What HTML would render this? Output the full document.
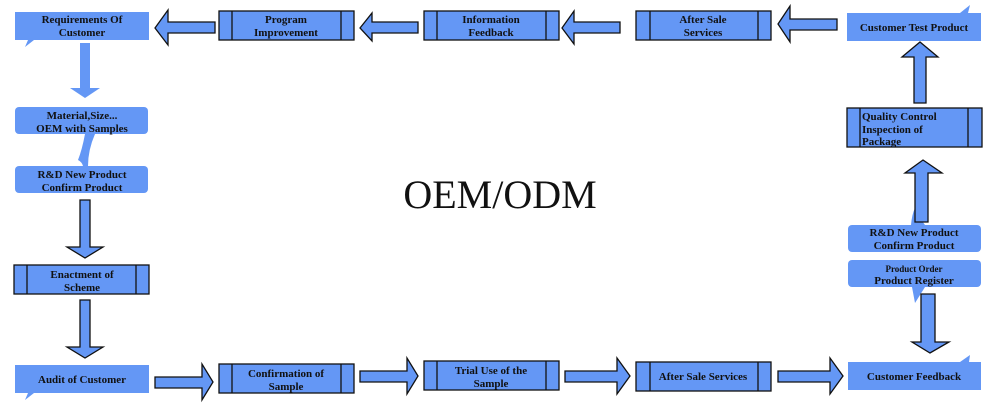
<!DOCTYPE html>
<html><head><style>body{margin:0;background:#fff}svg{display:block}</style></head><body>
<svg width="1000" height="411" xmlns="http://www.w3.org/2000/svg" font-family="'Liberation Serif',serif" font-weight="bold" font-size="11" text-anchor="middle">
<g fill="#6497f5">
<!-- callouts light -->
<path d="M15,12H149V40H34L25,47L28,40H15Z"/>
<rect x="15" y="107" width="133" height="27" rx="4"/>
<path d="M85,134Q82,150 78,160Q82,162 83,166L88,166Q88,150 95,134Z"/>
<rect x="15" y="166" width="133" height="27" rx="4"/>
<path d="M80,43H90V88H100L85,98L70,88H80Z"/>
<path d="M15,365H149V393H34L25,400L28,393H15Z"/>
<path d="M847,13H960L970,5L968,13H981V41H847Z"/>
<rect x="848" y="225" width="133" height="27" rx="4"/>
<path d="M911,225Q912,214 915,208Q918,216 925,225Z"/>
<rect x="848" y="260" width="133" height="27" rx="4"/>
<path d="M912,287L915,303L925,287Z"/>
<path d="M848,362H960L970,355L969,362H981V390H848Z"/>
</g>
<g fill="#6497f5" stroke="#111" stroke-width="1.3">
<!-- top arrows (left) -->
<path d="M155,28L168,10V22H215V33H168V45Z"/>
<path d="M360,28L372,13V22H418V33H372V41Z"/>
<path d="M562,28L574,11V22H620V33H574V44Z"/>
<path d="M778,24L790,6V19H837V30H790V42Z"/>
<!-- right up arrows -->
<path d="M920,42L938,57H926V103H914V57H902Z"/>
<path d="M923,160L942,173H928V222H915V173H905Z"/>
<path d="M921,294H935V342H949L930,353L912,342H921Z"/>
<!-- left down -->
<path d="M80,200H90V247H103L85,258L67,247H80Z"/>
<path d="M80,300H90V347H103L85,358L67,347H80Z"/>
<!-- bottom right arrows -->
<path d="M155,377H202V364L213,382L202,400V388H155Z"/>
<path d="M360,371H407V358L418,376L407,394V382H360Z"/>
<path d="M565,371H617V358L630,376L617,394V382H565Z"/>
<path d="M778,371H830V358L843,376L830,394V382H778Z"/>
<!-- process boxes -->
<rect x="219" y="11" width="135" height="29"/><path d="M232,11V40M341,11V40"/>
<rect x="424" y="11" width="135" height="29"/><path d="M437,11V40M546,11V40"/>
<rect x="636" y="11" width="135" height="29"/><path d="M650,11V40M758,11V40"/>
<rect x="847" y="108" width="135" height="39"/><path d="M860,108V147M968,108V147"/>
<rect x="14" y="265" width="135" height="29"/><path d="M27,265V294M136,265V294"/>
<rect x="219" y="364" width="135" height="29"/><path d="M232,364V393M341,364V393"/>
<rect x="424" y="361" width="135" height="29"/><path d="M437,361V390M546,361V390"/>
<rect x="636" y="362" width="135" height="29"/><path d="M650,362V391M758,362V391"/>
</g>
<g fill="#111">
<text x="82" y="23">Requirements Of</text><text x="82" y="36">Customer</text>
<text x="286" y="23">Program</text><text x="286" y="36">Improvement</text>
<text x="491" y="23">Information</text><text x="491" y="36">Feedback</text>
<text x="703" y="23">After Sale</text><text x="703" y="36">Services</text>
<text x="914" y="31">Customer Test Product</text>
<text x="862" y="120" text-anchor="start">Quality Control</text>
<text x="862" y="133" text-anchor="start">Inspection of</text>
<text x="862" y="145" text-anchor="start">Package</text>
<text x="914" y="236">R&amp;D New Product</text><text x="914" y="249">Confirm Product</text>
<text x="914" y="272" font-size="9">Product Order</text><text x="914" y="284">Product Register</text>
<text x="914" y="380">Customer Feedback</text>
<text x="703" y="380">After Sale Services</text>
<text x="491" y="374">Trial Use of the</text><text x="491" y="387">Sample</text>
<text x="286" y="377">Confirmation of</text><text x="286" y="390">Sample</text>
<text x="82" y="383">Audit of Customer</text>
<text x="82" y="278">Enactment of</text><text x="82" y="291">Scheme</text>
<text x="82" y="119">Material,Size...</text><text x="82" y="132">OEM with Samples</text>
<text x="82" y="178">R&amp;D New Product</text><text x="82" y="191">Confirm Product</text>
<text x="500" y="208" font-size="40" font-weight="normal">OEM/ODM</text>
</g>
</svg>
</body></html>
